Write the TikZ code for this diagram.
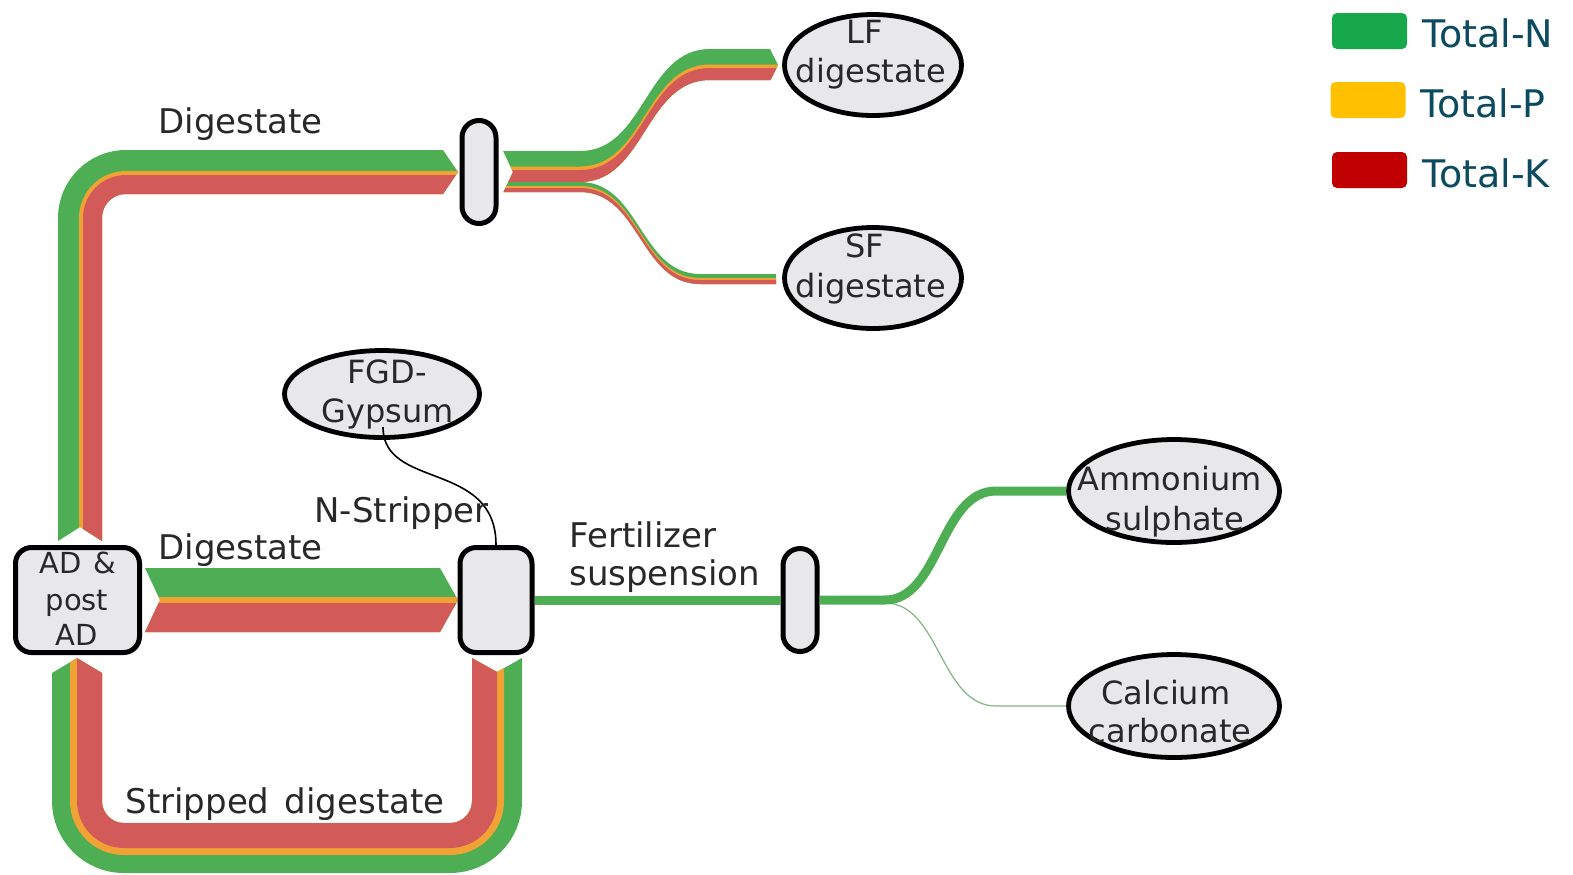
\documentclass[tikz,border=0pt]{standalone}
\usepackage{fontspec}
\setmainfont{DejaVu Sans}
\usetikzlibrary{shapes.geometric}
\definecolor{fgreen}{RGB}{78,174,84}
\definecolor{forange}{RGB}{240,162,52}
\definecolor{fred}{RGB}{210,90,88}
\definecolor{nodegray}{RGB}{232,232,235}
\definecolor{txtgray}{RGB}{40,40,40}
\definecolor{legtext}{RGB}{12,74,96}
\definecolor{legN}{RGB}{22,168,74}
\definecolor{legP}{RGB}{255,192,0}
\definecolor{legK}{RGB}{192,0,0}
\definecolor{thinflow}{RGB}{130,180,130}
% colour, x start, x end, curve start, curve end, y top, y bottom, vertical shift
\newcommand{\flowband}[8]{%
  \fill[#1] (#2,#6) -- (#4,#6) .. controls ({(#4+#5)/2},#6) and ({(#4+#5)/2},{#6+#8}) .. (#5,{#6+#8})
    -- (#3,{#6+#8}) -- (#3,{#7+#8}) -- (#5,{#7+#8})
    .. controls ({(#4+#5)/2},{#7+#8}) and ({(#4+#5)/2},#7) .. (#4,#7) -- (#2,#7) -- cycle;}
\begin{document}
\begin{tikzpicture}[x=0.5pt,y=-0.5pt,
  procbox/.style={draw=black,line width=2.5pt,fill=nodegray,rounded corners=8pt,inner sep=0pt},
  splitbox/.style={draw=black,line width=2.5pt,fill=nodegray,rounded corners=8.5pt,minimum width=17pt,minimum height=51.5pt,inner sep=0pt},
  sink/.style={ellipse,draw=black,line width=2.4pt,fill=nodegray,inner sep=0pt},
  lbl/.style={text=txtgray,font=\fontsize{17}{20}\selectfont,inner sep=0pt,anchor=base},
  sinktext/.style={text=txtgray,font=\fontsize{16}{19}\selectfont,inner sep=0pt,anchor=base},
  boxtext/.style={text=txtgray,font=\fontsize{14.5}{17}\selectfont,inner sep=0pt,anchor=base},
  legsw/.style={rounded corners=2.5pt,minimum width=37.5pt,minimum height=18pt,inner sep=0pt},
  legtxt/.style={text=legtext,font=\fontsize{19}{22}\selectfont,inner sep=0pt,anchor=base west},
]
\useasboundingbox (0,0) rectangle (1573,874);

% ---- Digestate: AD -> splitter 1 (up and over)
\begin{scope}
  \clip (40,140) -- (436.2,140) -- (458,172) -- (436.2,204) -- (120,204) -- (120,552.5) -- (80,527) -- (40,552.5) -- cycle;
  \draw[fgreen,line width=22pt,rounded corners=23pt] (80,548) -- (80,172) -- (462,172);
  \draw[forange,line width=11.5pt,rounded corners=17.75pt] (90.5,548) -- (90.5,182.5) -- (462,182.5);
  \draw[fred,line width=9.5pt,rounded corners=16.75pt] (92.5,548) -- (92.5,184.5) -- (462,184.5);
\end{scope}

% ---- Splitter 1 -> LF / SF digestate
\begin{scope}
  \clip (497.8,0) -- (497.8,140) -- (513,172) -- (497.8,204) -- (497.8,320) -- (776,320) -- (776,200) -- (760.5,100) -- (778,65) -- (760.5,30) -- (760.5,0) -- cycle;
  \flowband{fgreen}{495}{785}{580}{710}{151}{182}{-102}
  \flowband{forange}{495}{785}{580}{710}{166.5}{182}{-102}
  \flowband{fred}{495}{785}{580}{710}{170}{182}{-102}
  \flowband{fgreen}{495}{785}{580}{700}{182}{192}{92}
  \flowband{forange}{495}{785}{580}{700}{186}{192}{92}
  \flowband{fred}{495}{785}{580}{700}{188}{192}{92}
\end{scope}

% ---- Digestate: AD -> N-Stripper
\begin{scope}
  \clip (145,568) -- (440,568) -- (458,600) -- (440,632) -- (145,632) -- (160,600) -- cycle;
  \fill[fgreen] (140,566) rectangle (462,634);
  \fill[forange] (140,597) rectangle (462,634);
  \fill[fred] (140,603) rectangle (462,634);
\end{scope}

% ---- Stripped digestate loop: N-Stripper -> AD
\begin{scope}
  \clip (45,900) -- (45,677.2) -- (77,658) -- (109,677.2) -- (109,700) -- (465,700) -- (465,654.1) -- (497,672) -- (529,654.1) -- (529,900) -- cycle;
  \draw[fgreen,line width=25pt,rounded corners=23.5pt] (77,652) -- (77,848) -- (497,848) -- (497,652);
  \draw[forange,line width=16pt,rounded corners=19pt] (86,652) -- (86,839) -- (488,839) -- (488,652);
  \draw[fred,line width=12.5pt,rounded corners=17.25pt] (89.5,652) -- (89.5,835.5) -- (484.5,835.5) -- (484.5,652);
\end{scope}

% ---- nodes
\node[procbox,minimum width=62pt,minimum height=52.5pt] (ad) at (77.5,600) {};
\node[procbox,minimum width=36pt,minimum height=52.5pt] (ns) at (496,600) {};
\node[splitbox] (sp1) at (479,172) {};
\node[splitbox] (sp2) at (800,600) {};
\node[sink,minimum width=88.5pt,minimum height=50.5pt] (lf) at (873,65) {};
\node[sink,minimum width=88.5pt,minimum height=50.5pt] (sf) at (873,278) {};
\node[sink,minimum width=97.5pt,minimum height=43.5pt] (fgd) at (382,394) {};
\node[sink,minimum width=105.5pt,minimum height=51.5pt] (am) at (1174,491) {};
\node[sink,minimum width=105.5pt,minimum height=51.5pt] (ca) at (1174,706) {};

% ---- fertilizer suspension and its split
\draw[fgreen,line width=4.5pt] (ns.east) -- (sp2.west);
\draw[thinflow,line width=0.6pt] ([yshift=-1.5pt]sp2.east) -- (885,603) .. controls (940,603) and (940,706) .. (996,706) -- (ca.west);
\draw[fgreen,line width=4.5pt] (sp2.east) -- (885,600) .. controls (940,600) and (940,491) .. (996,491) -- (am.west);

% ---- FGD-Gypsum to N-Stripper
\coordinate (fgdout) at (383,427);
\draw[black,line width=0.8pt] (fgdout) .. controls (383,490) and (496,460) .. (ns.north);

% ---- labels
\node[lbl] (tdig1) at (240.5,133) {Digestate};
\node[lbl] (tdig2) at (240.5,559) {Digestate};
\node[lbl] (tns) at (401.5,522) {N-Stripper};
\node[lbl,anchor=base west] (tfert1) at (569,547) {Fertilizer};
\node[lbl,anchor=base west] (tfert2) at (569,585) {suspension};
\node[lbl] (tstrip) at (285,813) {Stripped\hspace{0.45em}digestate};

\node[sinktext] (tlf1) at (865,43) {LF};
\node[sinktext] (tlf2) at (871,82) {digestate};
\node[sinktext] (tsf1) at (865,257) {SF};
\node[sinktext] (tsf2) at (871,297) {digestate};
\node[sinktext] (tfgd1) at (387,383) {FGD-};
\node[sinktext] (tfgd2) at (388,422) {Gypsum};
\node[sinktext] (tam1) at (1169.5,490) {Ammonium};
\node[sinktext] (tam2) at (1175,530) {sulphate};
\node[sinktext] (tca1) at (1166,704) {Calcium};
\node[sinktext] (tca2) at (1170,742) {carbonate};

\node[boxtext] (tad1) at (78,573) {AD\hspace{0.4em}\&};
\node[boxtext] (tad2) at (77,610) {post};
\node[boxtext] (tad3) at (77,645) {AD};

% ---- legend
\node[legsw,fill=legN] (swN) at (1369.5,31) {};
\node[legsw,fill=legP] (swP) at (1368,100) {};
\node[legsw,fill=legK] (swK) at (1369.5,170) {};
\node[legtxt] (lgN) at (1422,47) {Total-N};
\node[legtxt] (lgP) at (1420,117) {Total-P};
\node[legtxt] (lgK) at (1422,187) {Total-K};
\end{tikzpicture}
\end{document}
